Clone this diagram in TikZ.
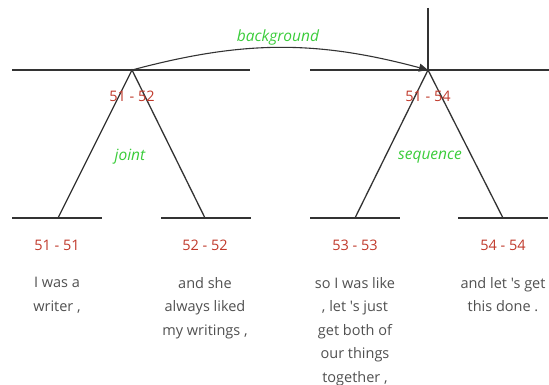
\documentclass[tikz,border=0pt]{standalone}
\usepackage{fontspec}
\setmainfont{Open Sans}
\newfontfamily\osans{Open Sans}
\usetikzlibrary{arrows.meta}
\definecolor{lineC}{HTML}{333333}
\definecolor{spanC}{HTML}{C0392B}
\definecolor{relC}{HTML}{3ACC3A}
\definecolor{txtC}{HTML}{505050}
\begin{document}
\begin{tikzpicture}[x=1pt,y=-1pt,
  tline/.style={draw=lineC,line width=1.3pt},
  span/.style={text=spanC,font=\osans\fontsize{14.5}{16}\selectfont,inner sep=0pt},
  rel/.style={text=relC,font=\osans\fontsize{15.5}{17}\selectfont\itshape,inner sep=0pt},
  edu/.style={text=txtC,font=\osans\fontsize{14.5}{23.5}\selectfont,align=center,inner sep=0pt,anchor=north}]
\useasboundingbox (0,0) rectangle (549,385);
% apexes
\coordinate (A) at (132,70);
\coordinate (B) at (428,70);
\coordinate (Atop) at (428,8);
\coordinate (L1a) at (12,70); \coordinate (L1b) at (250,70);
\coordinate (L2a) at (310,70); \coordinate (L2b) at (549,70);
% leaves
\coordinate (f1) at (58,218); \coordinate (f1a) at (12,218); \coordinate (f1b) at (102,218);
\coordinate (f2) at (205,218); \coordinate (f2a) at (161,218); \coordinate (f2b) at (251,218);
\coordinate (f3) at (355,218); \coordinate (f3a) at (310,218); \coordinate (f3b) at (400,218);
\coordinate (f4) at (503,218); \coordinate (f4a) at (458,218); \coordinate (f4b) at (548,218);
\draw[tline] (L1a) -- (L1b);
\draw[tline] (L2a) -- (L2b);
\draw[tline] (Atop) -- (B);
\draw[tline] (f1a) -- (f1b);
\draw[tline] (f2a) -- (f2b);
\draw[tline] (f3a) -- (f3b);
\draw[tline] (f4a) -- (f4b);
\draw[tline] (f1) -- (A) -- (f2);
\draw[tline] (f3) -- (B) -- (f4);
\draw[draw=lineC,line width=1.1pt,-{Triangle[length=9pt,width=8pt]}] (A) to[bend left=15] (B);
% labels
\node[span] (s1) at (132,96) {51 - 52};
\node[span] (s2) at (428,96) {51 - 54};
\node[rel] (r1) at (130,157) {joint};
\node[rel] (r2) at (430,157) {sequence};
\node[rel] (r3) at (278,37) {background};
\node[span] (s11) at (57,245) {51 - 51};
\node[span] (s22) at (205,245) {52 - 52};
\node[span] (s33) at (355,245) {53 - 53};
\node[span] (s44) at (503,245) {54 - 54};
\node[edu] (e1) at (57,277) {I was a\\writer ,};
\node[edu] (e2) at (205,277) {and she\\always liked\\my writings ,};
\node[edu] (e3) at (355,277) {so I was like\\, let 's just\\get both of\\our things\\together ,};
\node[edu] (e4) at (503,277) {and let 's get\\this done .};
\end{tikzpicture}
\end{document}
